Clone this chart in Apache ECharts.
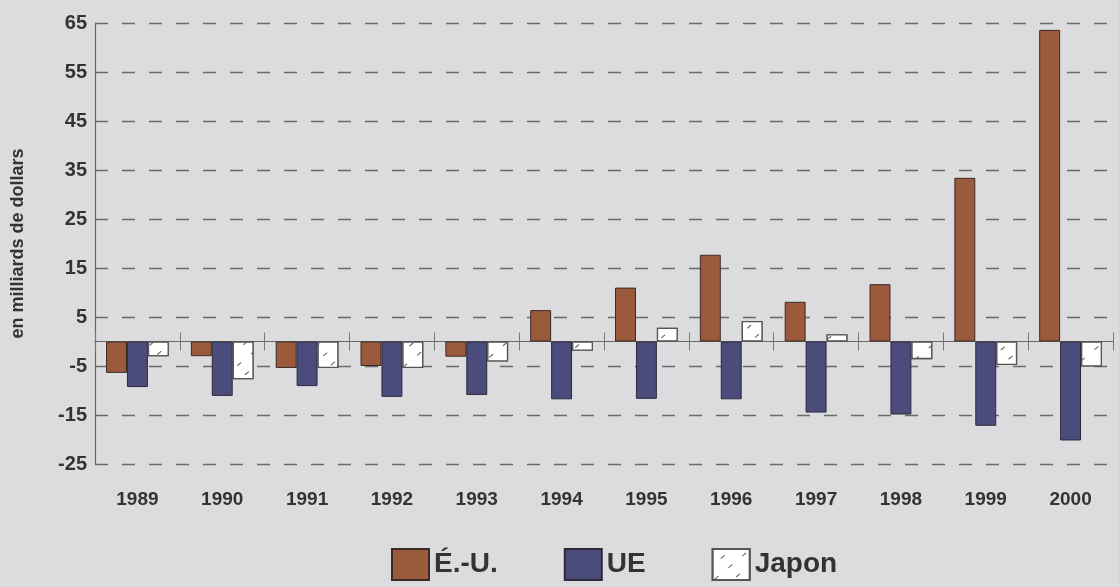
<!DOCTYPE html>
<html>
<head>
<meta charset="utf-8">
<script src="https://cdn.jsdelivr.net/npm/echarts@6/dist/echarts.min.js"></script>
<style>
html,body{margin:0;padding:0;background:#dcdcdf;}
#c{width:1119px;height:587px;}
</style>
</head>
<body>
<div id="c"></div>
<script>
const years = ['1989','1990','1991','1992','1993','1994','1995','1996','1997','1998','1999','2000'];
const usValues = [-6.4, -3.0, -5.4, -5.0, -3.1, 6.4, 11.0, 17.7, 8.1, 11.7, 33.4, 63.6];
const euValues = [-9.3, -11.1, -9.1, -11.3, -10.9, -11.8, -11.7, -11.8, -14.5, -14.9, -17.2, -20.2];
const japanValues = [-3.0, -7.7, -5.4, -5.4, -4.1, -1.9, 2.8, 4.2, 1.5, -3.6, -4.8, -5.1];
const seriesNames = ['É.-U.', 'UE', 'Japon'];
const yAxisTitle = 'en milliards de dollars';

const font = 'Liberation Sans, Arial, sans-serif';
const chart = echarts.init(document.getElementById('c'));
const japonDecal = {
  symbol: 'rect',
  symbolSize: 1,
  color: '#555',
  backgroundColor: '#ffffff',
  dashArrayX: [[5, 13]],
  dashArrayY: [1, 11],
  rotation: -0.7
};
chart.setOption({
  backgroundColor: '#dcdcdf',
  animation: false,
  grid: {left: 95, right: 6, top: 23, bottom: 123},
  legend: {
    bottom: 1,
    left: 386,
    icon: 'rect',
    itemWidth: 37,
    itemHeight: 31,
    itemGap: 66,
    textStyle: {fontFamily: font, fontWeight: 'bold', fontSize: 28, color: '#333', padding: [0,0,0,0]},
    data: seriesNames
  },
  xAxis: [
    {
      type: 'category', data: years, position: 'bottom',
      axisLine: {show: false, onZero: false},
      axisTick: {show: false},
      axisLabel: {fontFamily: font, fontWeight: 'bold', fontSize: 19, color: '#333', margin: 26}
    },
    {
      type: 'category', data: years, position: 'bottom',
      axisLine: {show: true, onZero: true, onZeroAxisIndex: 0, lineStyle: {color: '#666', width: 1.2}},
      axisTick: {show: true, length: 9, lineStyle: {color: '#777'}},
      axisLabel: {show: false}
    },
    {
      type: 'category', data: years, position: 'top',
      axisLine: {show: true, onZero: true, onZeroAxisIndex: 0, lineStyle: {color: '#666', width: 1.2}},
      axisTick: {show: true, length: 9, lineStyle: {color: '#777'}},
      axisLabel: {show: false}
    }
  ],
  yAxis: {
    type: 'value', min: -25, max: 65, interval: 10,
    name: yAxisTitle,
    nameLocation: 'middle',
    nameGap: 68,
    nameTextStyle: {fontFamily: font, fontWeight: 'bold', fontSize: 18, color: '#333'},
    axisLine: {show: true, lineStyle: {color: '#666', width: 1.2}},
    axisTick: {show: false},
    axisLabel: {fontFamily: font, fontWeight: 'bold', fontSize: 20, color: '#333', margin: 8},
    splitLine: {show: true, lineStyle: {color: '#6a6a6a', type: [13, 14], width: 1.3}}
  },
  series: [
    {
      name: seriesNames[0], type: 'bar', xAxisIndex: 0, data: usValues,
      barGap: '0%', barCategoryGap: '26%',
      itemStyle: {color: '#9c5a3c', borderColor: '#3a2a25', borderWidth: 1}
    },
    {
      name: seriesNames[1], type: 'bar', xAxisIndex: 0, data: euValues,
      barGap: '0%', barCategoryGap: '26%',
      itemStyle: {color: '#4b4c7c', borderColor: '#2a2a3a', borderWidth: 1}
    },
    {
      name: seriesNames[2], type: 'bar', xAxisIndex: 0, data: japanValues,
      barGap: '0%', barCategoryGap: '26%',
      itemStyle: {color: '#ffffff', borderColor: '#555', borderWidth: 1.3, decal: japonDecal}
    }
  ]
});
</script>
</body>
</html>
